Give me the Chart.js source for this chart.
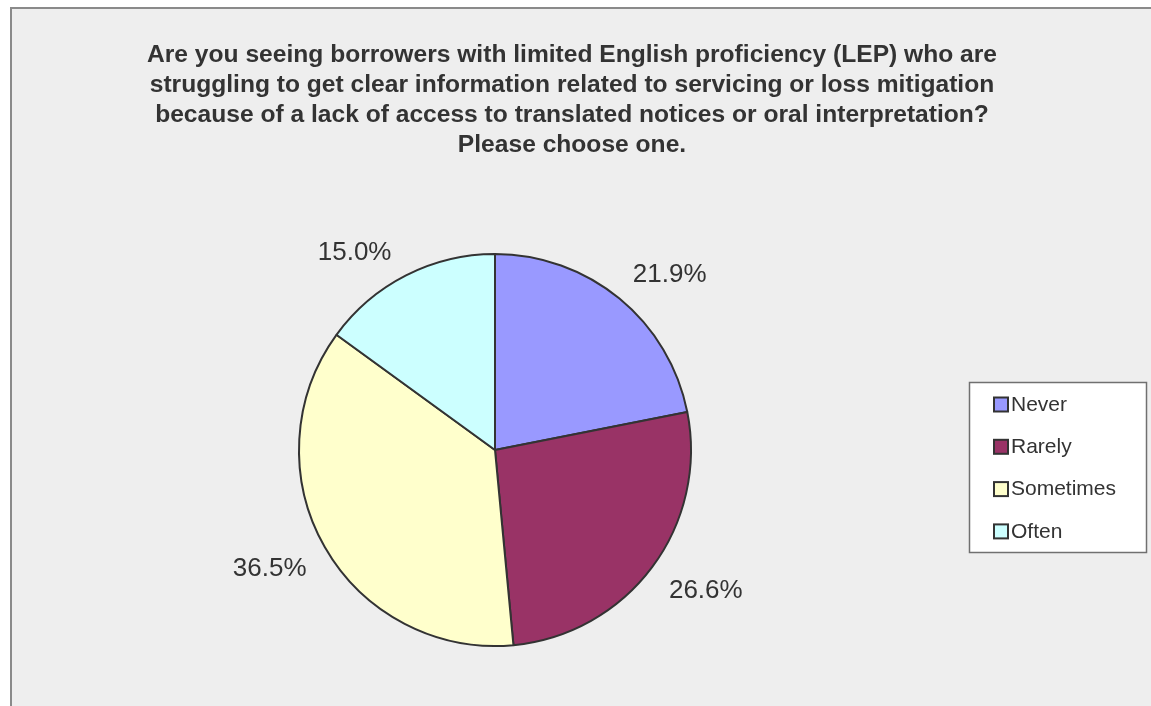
<!DOCTYPE html>
<html>
<head>
<meta charset="utf-8">
<title>LEP borrowers survey</title>
<script src="https://cdn.jsdelivr.net/npm/chart.js@4.4.1/dist/chart.umd.min.js"></script>
<style>
  html, body { margin: 0; padding: 0; background: #ffffff; }
  canvas { display: block; }
</style>
</head>
<body>
<canvas id="myChart" width="1151" height="706"></canvas>
<script>
var answers = ['Never', 'Rarely', 'Sometimes', 'Often'];
var shares = [21.9, 26.6, 36.5, 15.0];
var sliceColors = ['#9999ff', '#993366', '#ffffcc', '#ccffff'];
var titleLines = [
  'Are you seeing borrowers with limited English proficiency (LEP) who are',
  'struggling to get clear information related to servicing or loss mitigation',
  'because of a lack of access to translated notices or oral interpretation?',
  'Please choose one.'
];

var FONT = '"Liberation Sans", Arial, sans-serif';
var INK = '#333333';

// grey plot panel with the frame on the left and top
var panel = {
  id: 'panel',
  beforeDraw: function (chart) {
    var c = chart.ctx;
    c.save();
    c.fillStyle = '#ffffff';
    c.fillRect(0, 0, chart.width, chart.height);
    c.fillStyle = '#eeeeee';
    c.fillRect(11, 8, chart.width - 11, chart.height - 8);
    c.strokeStyle = '#8a8a8a';
    c.lineWidth = 2;
    c.beginPath();
    c.moveTo(11, chart.height);
    c.lineTo(11, 8);
    c.lineTo(chart.width, 8);
    c.stroke();
    c.restore();
  }
};

// four-line heading
var heading = {
  id: 'heading',
  afterDraw: function (chart) {
    var c = chart.ctx;
    c.save();
    c.fillStyle = INK;
    c.font = 'bold 24.6px ' + FONT;
    c.textAlign = 'center';
    c.textBaseline = 'alphabetic';
    titleLines.forEach(function (line, i) {
      c.fillText(line, 572, 62 + i * 30);
    });
    c.restore();
  }
};

// percentage labels just outside each slice
var sliceLabels = {
  id: 'sliceLabels',
  afterDatasetsDraw: function (chart) {
    var c = chart.ctx;
    var meta = chart.getDatasetMeta(0);
    c.save();
    c.fillStyle = INK;
    c.font = '26px ' + FONT;
    meta.data.forEach(function (arc, i) {
      var p = arc.getProps(['x', 'y', 'startAngle', 'endAngle', 'outerRadius'], true);
      var mid = (p.startAngle + p.endAngle) / 2;
      var r = p.outerRadius + 21;
      var ax = p.x + Math.cos(mid) * r;
      var ay = p.y + Math.sin(mid) * r;
      var text = shares[i].toFixed(1) + '%';
      var m = c.measureText(text);
      c.textAlign = Math.cos(mid) >= 0 ? 'left' : 'right';
      c.textBaseline = 'alphabetic';
      var y = Math.sin(mid) < 0 ? ay : ay + m.actualBoundingBoxAscent;
      // small-slice label sits a little further out and lower
      if (i === 3) { ax -= 5; y += 3; }
      c.fillText(text, ax, y);
    });
    c.restore();
  }
};

// boxed legend on the right
var sideLegend = {
  id: 'sideLegend',
  afterDraw: function (chart) {
    var c = chart.ctx;
    c.save();
    c.fillStyle = '#ffffff';
    c.fillRect(969, 382, 177, 170);
    c.strokeStyle = '#707070';
    c.lineWidth = 1.5;
    c.strokeRect(969.5, 382.5, 177, 170);
    c.font = '21px ' + FONT;
    c.textAlign = 'left';
    c.textBaseline = 'middle';
    answers.forEach(function (name, i) {
      var cy = 404 + i * 42.3;
      c.fillStyle = sliceColors[i];
      c.fillRect(994, cy - 6.5, 14, 14);
      c.strokeStyle = INK;
      c.lineWidth = 2;
      c.strokeRect(994, cy - 6.5, 14, 14);
      c.fillStyle = INK;
      c.fillText(name, 1011, cy + 1);
    });
    c.restore();
  }
};

var ctx = document.getElementById('myChart').getContext('2d');
var chart = new Chart(ctx, {
  type: 'pie',
  data: {
    labels: answers,
    datasets: [{
      data: shares,
      backgroundColor: sliceColors,
      borderColor: INK,
      borderWidth: 2,
      borderAlign: 'center'
    }]
  },
  options: {
    responsive: false,
    animation: false,
    devicePixelRatio: 1,
    radius: 196,
    layout: { padding: { left: 299, right: 460, top: 254, bottom: 60 } },
    plugins: {
      legend: { display: false },
      title: { display: false },
      tooltip: { enabled: false }
    }
  },
  plugins: [panel, heading, sliceLabels, sideLegend]
});
</script>
</body>
</html>
